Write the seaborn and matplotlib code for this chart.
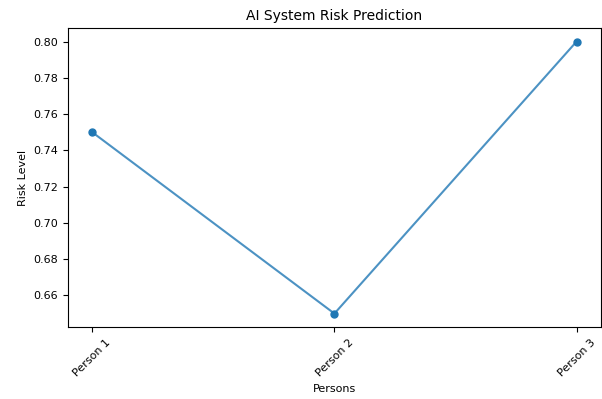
import matplotlib
matplotlib.use("Agg")
import matplotlib.pyplot as plt
import seaborn as sns
import pandas as pd

persons = ["Person 1", "Person 2", "Person 3"]
risk = [0.75, 0.65, 0.80]

df = pd.DataFrame({"Persons": persons, "Risk Level": risk})

fig, ax = plt.subplots(figsize=(6.02, 3.99), dpi=100)
sns.lineplot(data=df, x="Persons", y="Risk Level", ax=ax, color="#1f77b4", alpha=0.8, sort=False)
ax.scatter(range(len(persons)), risk, color="#1f77b4", s=25, zorder=3)
ax.set_title("AI System Risk Prediction", fontsize=10)
ax.set_xlabel("Persons", fontsize=8)
ax.set_ylabel("Risk Level", fontsize=8)
ax.tick_params(axis="both", labelsize=8)
plt.setp(ax.get_xticklabels(), rotation=45)
fig.subplots_adjust(left=0.113, right=0.998, top=0.93, bottom=0.18)
fig.savefig("out.png", dpi=100)
